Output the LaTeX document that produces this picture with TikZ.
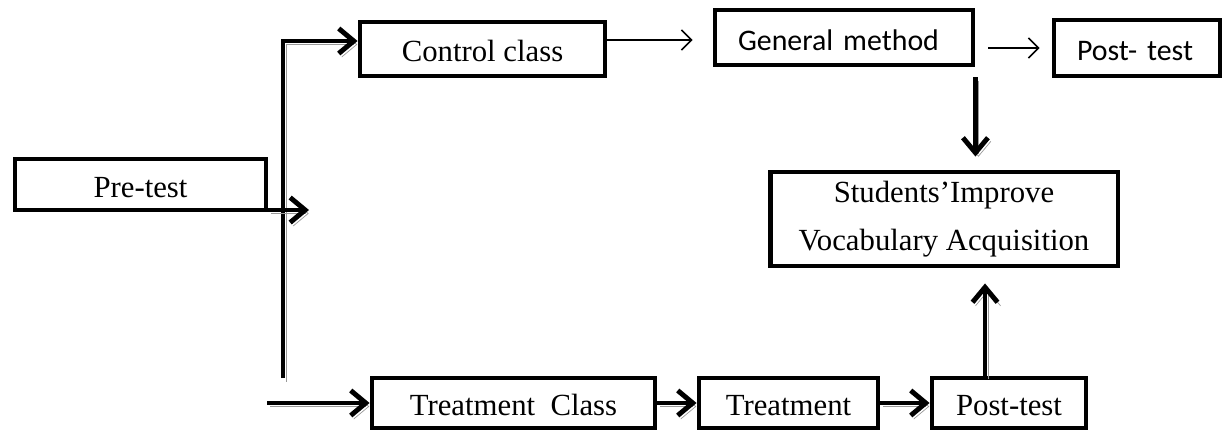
\documentclass[tikz,border=0pt]{standalone}
\usepackage{fontspec}
\setmainfont{Liberation Serif}
\newfontfamily\calibri{Carlito}
\usepackage{tikz}
\usetikzlibrary{arrows.meta}
\usetikzlibrary{calc}
\tikzset{Frame/.style={draw, line width=2.8pt, inner sep=0pt, minimum height=1cm,
           font=\fontsize{17.5pt}{27pt}\selectfont},
         Box/.style={Frame, text height=14.5pt, text depth=0pt},
         SansBox/.style={Box, align=left, inner xsep=0.46cm, font=\calibri\fontsize{17pt}{20pt}\selectfont},
         Thick/.style={line width=2.8pt, -{Straight Barb[length=0.3cm, width=0.5cm]},
           preaction={draw=black!40, transform canvas={shift={(0.06cm,-0.07cm)}}}},
         Thin/.style={line width=0.9pt, -{Straight Barb[length=0.2cm, width=0.4cm]}}}

\begin{document}
\begin{tikzpicture}[x=0.02cm, y=-0.02cm]
  \useasboundingbox (0,0) rectangle (1226,433);
    \node[Box, minimum width=5.02cm, minimum height=1.02cm] (Pre) at (140.5,184.5) {Pre-test};
    \node[Box, minimum width=4.9cm, minimum height=1.08cm] (Ctrl) at (482.5,49) {Control class};
    \node[SansBox, text width=4.24cm, minimum height=1.1cm] (Gen) at (844,37.5) {General method};
    \node[SansBox, text width=2.4cm, minimum height=1.12cm] (PostA) at (1137,48) {Post- test};
    \node[Frame, minimum width=6.96cm, minimum height=1.88cm, align=center] (Stud) at (944,219) {Students'Improve\\Vocabulary Acquisition};
    \node[Box, minimum width=5.66cm] (TrCl) at (513.5,403) {Treatment\ \ Class};
    \node[Box, minimum width=3.58cm] (Tr) at (788.5,403) {Treatment};
    \node[Box, minimum width=3.08cm] (PostB) at (1009,403) {Post-test};
    \coordinate (Top) at (283,41);
    \coordinate (Bot) at (283,378);
    \coordinate (Mid) at (309,210);
    \coordinate (Low) at (267,403);
  % left branch
  \draw[Thick] (Bot) -- (Top) -- (Top -| Ctrl.west);
  \draw[Thick] (Pre.east |- Mid) -- (Mid);
  \draw[Thick] (Low) -- (Low -| TrCl.west);
  % bottom row
  \draw[Thick] (TrCl) -- (Tr);
  \draw[Thick] (Tr) -- (PostB);
  \draw[Thick, shorten >=0.3cm] ([xshift=-0.48cm]PostB.north) -- ([xshift=-0.48cm]PostB.north |- Stud.south);
  \draw[Thick, shorten <=0.2cm, shorten >=0.26cm] (Gen.south east) -- (Gen.south east |- Stud.north);
  % top row
  \draw[Thin, shorten >=0.4cm] ([yshift=0.18cm]Ctrl.east) -- ([yshift=0.18cm]Ctrl.east -| Gen.west);
  \draw[Thin, shorten <=0.26cm, shorten >=0.24cm] (Gen.east |- PostA.west) -- (PostA.west);
\end{tikzpicture}
\end{document}
